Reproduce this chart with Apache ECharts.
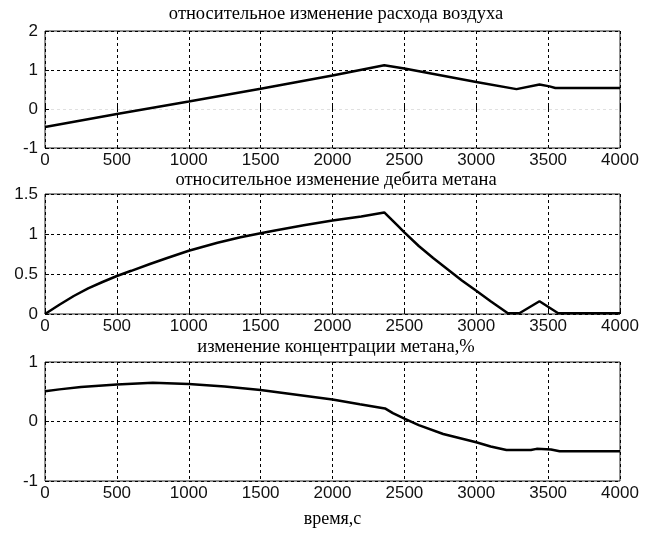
<!DOCTYPE html>
<html>
<head>
<meta charset="utf-8">
<script src="https://cdn.jsdelivr.net/npm/echarts@6/dist/echarts.min.js"></script>
<style>
  html, body { margin: 0; padding: 0; background: #fff; }
  #chart { width: 651px; height: 533px; }
</style>
</head>
<body>
<div id="chart"></div>
<script>
// относительное изменение расхода воздуха
var airTime = [0, 500, 1000, 1500, 2000, 2360, 2500, 3000, 3280, 3440, 3510, 3550, 4000];
var airValue = [-0.46, -0.13, 0.19, 0.52, 0.86, 1.12, 1.04, 0.69, 0.51, 0.63, 0.58, 0.54, 0.54];

// относительное изменение дебита метана
var flowTime = [0, 100, 200, 300, 400, 500, 600, 730, 850, 1000, 1200, 1360, 1500, 1600, 1800, 2000, 2200, 2360, 2450, 2500, 2600, 2700, 2800, 2900, 3000, 3100, 3220, 3300, 3440, 3570, 4000];
var flowValue = [0, 0.115, 0.225, 0.32, 0.4, 0.475, 0.54, 0.625, 0.7, 0.79, 0.89, 0.96, 1.01, 1.045, 1.11, 1.17, 1.22, 1.27, 1.11, 1.02, 0.85, 0.70, 0.56, 0.42, 0.29, 0.16, 0.01, 0.01, 0.16, 0.01, 0.01];

// изменение концентрации метана, %
var concTime = [0, 100, 250, 500, 750, 1000, 1250, 1500, 1750, 2000, 2190, 2365, 2420, 2500, 2600, 2770, 3000, 3100, 3210, 3380, 3420, 3520, 3580, 4000];
var concValue = [0.51, 0.54, 0.58, 0.62, 0.65, 0.63, 0.59, 0.53, 0.45, 0.37, 0.29, 0.22, 0.14, 0.05, -0.06, -0.21, -0.35, -0.42, -0.48, -0.48, -0.46, -0.47, -0.5, -0.5];

var titles = [
    'относительное изменение расхода воздуха',
    'относительное изменение дебита метана',
    'изменение концентрации метана,%'
];

function pairs(t, v) {
    var out = [];
    for (var i = 0; i < t.length; i++) {
        out.push([t[i], v[i]]);
    }
    return out;
}

var labelFont = { color: '#111', fontFamily: 'Liberation Sans', fontSize: 17 };
var gridDash = { color: '#000', width: 1, type: [3, 3] };

function xAxisOf(idx, name) {
    return {
        type: 'value', gridIndex: idx, min: 0, max: 4000, interval: 500,
        axisLine: { show: false },
        axisTick: { show: true, inside: true, length: 4, lineStyle: { color: '#000' } },
        axisLabel: Object.assign({ margin: 4, formatter: function (v) { return String(v); } }, labelFont),
        splitLine: { show: true, lineStyle: gridDash },
        name: name || '',
        nameLocation: 'middle',
        nameGap: 29,
        nameTextStyle: { color: '#000', fontFamily: 'Liberation Serif', fontSize: 18 }
    };
}

function yAxisOf(idx, min, max, interval, colors) {
    return {
        type: 'value', gridIndex: idx, min: min, max: max, interval: interval,
        axisLine: { show: false },
        axisTick: { show: true, inside: true, length: 4, lineStyle: { color: '#000' } },
        axisLabel: Object.assign({ margin: 7 }, labelFont),
        splitLine: { show: true, lineStyle: { color: colors || '#000', width: 1, type: [3, 3] } }
    };
}

function lineOf(idx, t, v) {
    return {
        type: 'line', xAxisIndex: idx, yAxisIndex: idx,
        data: pairs(t, v),
        symbol: 'none',
        lineStyle: { color: '#000', width: 2.5 },
        z: 5
    };
}

var titleTops = [5, 171, 338];

var myChart = echarts.init(document.getElementById('chart'));
var option = {
    backgroundColor: '#fff',
    animation: false,
    title: titles.map(function (text, i) {
        return {
            text: text, left: 336, top: titleTops[i], textAlign: 'center', padding: 0,
            textStyle: { color: '#000', fontFamily: 'Liberation Serif', fontSize: 18.5, fontWeight: 'normal' }
        };
    }),
    grid: [
        { left: 45, right: 31, top: 31, height: 117, show: true, borderColor: '#222', borderWidth: 1, backgroundColor: 'transparent' },
        { left: 45, right: 31, top: 194, height: 120, show: true, borderColor: '#222', borderWidth: 1, backgroundColor: 'transparent' },
        { left: 45, right: 31, top: 362, height: 119, show: true, borderColor: '#222', borderWidth: 1, backgroundColor: 'transparent' }
    ],
    xAxis: [xAxisOf(0), xAxisOf(1), xAxisOf(2, 'время,с')],
    yAxis: [
        yAxisOf(0, -1, 2, 1, ['#000', 'rgba(0,0,0,0.12)', '#000', '#000']),
        yAxisOf(1, 0, 1.5, 0.5),
        yAxisOf(2, -1, 1, 1)
    ],
    series: [
        lineOf(0, airTime, airValue),
        lineOf(1, flowTime, flowValue),
        lineOf(2, concTime, concValue)
    ]
};
myChart.setOption(option);
</script>
</body>
</html>
